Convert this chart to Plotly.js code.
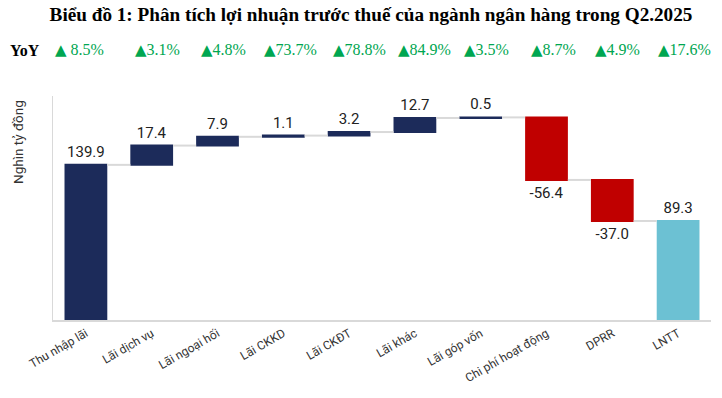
<!DOCTYPE html>
<html>
<head>
<meta charset="utf-8">
<script src="https://cdn.plot.ly/plotly-3.0.1.min.js"></script>
<style>html,body{margin:0;padding:0;background:#fff;}#chart{width:722px;height:398px;}</style>
</head>
<body>
<div id="chart"></div>
<script>
const categories = ["Thu nhập lãi","Lãi dịch vụ","Lãi ngoại hối","Lãi CKKD","Lãi CKĐT","Lãi khác","Lãi góp vốn","Chi phí hoạt động","DPRR","LNTT"];
const values = [139.9, 17.4, 7.9, 1.1, 3.2, 12.7, 0.5, -56.4, -37.0, 89.3];
const measures = ["relative","relative","relative","relative","relative","relative","relative","relative","relative","total"];
const yoyValues = ["8.5%","3.1%","4.8%","73.7%","78.8%","84.9%","3.5%","8.7%","4.9%","17.6%"];
const yoyGap = [" ","","","","","","","","",""];
const yoyPixelX = [53,133,199,262,331,396,462,529,593,656];

const W = 722;
const annotations = [];
annotations.push({xref:'paper', yref:'paper', x:(8-53)/(W-53-11), y:1+(96-50)/224, xanchor:'left', yanchor:'middle', text:'<b>YoY</b>', showarrow:false, font:{family:'Liberation Serif', size:16, color:'#000'}});
yoyValues.forEach((t,i)=>{
  annotations.push({xref:'paper', yref:'paper', x:(yoyPixelX[i]-53)/(W-53-11), y:1+(96-50)/224, xanchor:'left', yanchor:'middle',
    text:'<span style="font-family:\'DejaVu Sans\';font-size:15px">▲</span>'+yoyGap[i]+t, showarrow:false, font:{family:'Liberation Serif', size:16, color:'#00A651'}});
});
annotations.push({xref:'paper', yref:'paper', x:(18-53)/(W-53-11), y:1-(142-96)/224, xanchor:'center', yanchor:'middle', text:'Nghìn tỷ đồng', textangle:-90, showarrow:false, font:{family:'Roboto', size:13.5, color:'#333'}});

const trace = {
  type:'waterfall',
  x: categories,
  y: values,
  measure: measures,
  text: values.map(v=>v.toFixed(1)),
  textposition:'outside',
  textfont:{family:'Roboto', size:15, color:'#222'},
  cliponaxis:false,
  width: 0.65,
  increasing:{marker:{color:'#1C2B5A'}},
  decreasing:{marker:{color:'#C00000'}},
  totals:{marker:{color:'#6CC1D3'}},
  connector:{line:{color:'#D9D9D9', width:2}},
  hoverinfo:'none'
};

const layout = {
  width:722, height:398,
  margin:{l:53, r:11, t:96, b:78},
  paper_bgcolor:'#fff', plot_bgcolor:'#fff',
  title:{text:'<b>Biểu đồ 1: Phân tích lợi nhuận trước thuế của ngành ngân hàng trong Q2.2025</b>', font:{family:'Liberation Serif', size:19.2, color:'#000'}, x:371/722, xanchor:'center', y:1-14/398, yanchor:'middle'},
  showlegend:false,
  xaxis:{tickangle:-30, tickfont:{family:'Roboto', size:12, color:'#333'}, showline:true, linecolor:'#D9D9D9', linewidth:2, ticks:'', showgrid:false, zeroline:false},
  yaxis:{range:[0,202], showticklabels:false, showgrid:false, zeroline:false, showline:true, linecolor:'#D9D9D9', linewidth:1, ticks:''},
  annotations: annotations
};
Plotly.newPlot('chart',[trace],layout,{displayModeBar:false, staticPlot:true});
</script>
</body>
</html>
